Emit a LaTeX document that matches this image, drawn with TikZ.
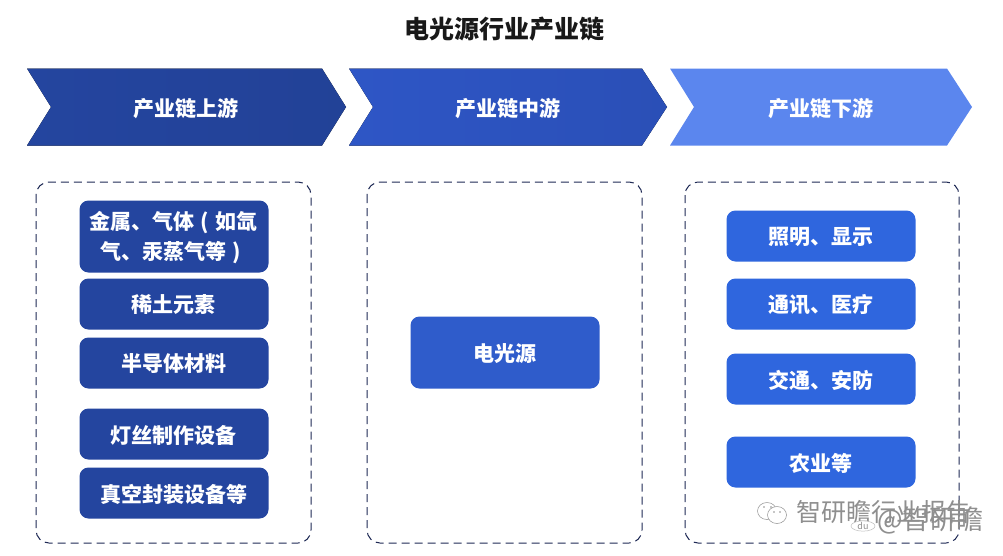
\documentclass[tikz,border=0pt]{standalone}
\usepackage{fontspec}
\setmainfont{Noto Sans CJK SC}
\usetikzlibrary{shapes.geometric}
\definecolor{upc}{HTML}{24459F}
\definecolor{midc}{HTML}{2E56C6}
\definecolor{downc}{HTML}{5B86EE}
\definecolor{midbox}{HTML}{2F5CCB}
\definecolor{downbox}{HTML}{2F66DE}
\definecolor{dashc}{HTML}{1F2A55}
\definecolor{wm}{HTML}{8F8F8F}
\newcommand{\lparen}{\makebox[21pt][c]{(}}
\newcommand{\rparen}{\makebox[21pt][c]{)}}
\newcommand{\dn}[1]{\raisebox{-1pt}[\height][\depth]{\kern-1pt #1}}
\tikzset{
  x=1pt,y=-1pt,
  pill/.style={rounded corners=9pt,minimum width=189pt,inner sep=0pt,align=center,text=white,font=\fontsize{21}{30}\selectfont\bfseries},
  head/.style={text=white,font=\fontsize{21}{26}\selectfont\bfseries},
  panel/.style={draw=dashc,line width=1pt,dash pattern=on 8pt off 5pt,rounded corners=13pt},
  wmark/.style={text=wm,font=\fontsize{25}{28}\selectfont,inner sep=0pt,anchor=west},
}
\begin{document}
\begin{tikzpicture}
\useasboundingbox (0,0) rectangle (1003,555);
\fill[white] (0,0) rectangle (1003,555);
\node[font=\fontsize{25}{30}\selectfont\bfseries,text=black!90] (title) at (504,29) {电光源行业产业链};
% chevrons
\fill[left color=upc,right color=upc!95!black] (27,68.5) -- (322,68.5) -- (346,107) -- (322,145.5) -- (27,145.5) -- (51,107) -- cycle;
\fill[left color=midc,right color=midc!92!black] (349,68.5) -- (642,68.5) -- (667,107) -- (642,145.5) -- (349,145.5) -- (373,107) -- cycle;
\fill[downc] (670,68.5) -- (947,68.5) -- (972,107) -- (947,145.5) -- (670,145.5) -- (694,107) -- cycle;
\node[head] (h1) at (186,109) {产业链上游};
\node[head] (h2) at (508,109) {产业链中游};
\node[head] (h3) at (821,109) {产业链下游};
% panels
\draw[panel] (36,182) rectangle (311,543);
\draw[panel] (367,182) rectangle (642,543);
\draw[panel] (685,182) rectangle (959,543);
% left boxes
\node[pill,fill=upc,minimum height=72pt] (a1) at (174,236.5) {\dn{金属、气体\lparen 如氙}\\\dn{气、汞蒸气等\rparen}};
\node[pill,fill=upc,minimum height=51pt] (a2) at (174,304) {\dn{稀土元素}};
\node[pill,fill=upc,minimum height=51pt] (a3) at (174,363) {\dn{半导体材料}};
\node[pill,fill=upc,minimum height=51pt] (a4) at (174,434) {\dn{灯丝制作设备}};
\node[pill,fill=upc,minimum height=51pt] (a5) at (174,493) {\dn{真空封装设备等}};
% middle
\node[pill,fill=midbox,minimum height=72pt] (b1) at (505,352.5) {\dn{电光源}};
% right
\node[pill,fill=downbox,minimum height=51pt] (c1) at (821,236) {\dn{照明、显示}};
\node[pill,fill=downbox,minimum height=51pt] (c2) at (821,304) {\dn{通讯、医疗}};
\node[pill,fill=downbox,minimum height=51pt] (c3) at (821,379) {\dn{交通、安防}};
\node[pill,fill=downbox,minimum height=51pt] (c4) at (821,462) {\dn{农业等}};
% watermark
\node[wmark] (w1) at (796,512) {智研瞻行业报告};
\node[wmark,font=\fontsize{27}{30}\selectfont] (w2) at (877,520) {@智研瞻};
\node[draw=wm!60,fill=white,line width=0.5pt,ellipse,inner xsep=3pt,inner ysep=0pt,text=wm,font=\fontsize{9}{10}\selectfont] (w3) at (863,526) {du};
\draw[wm,line width=0.5pt] (767,511) ellipse (9.5pt and 8.5pt);
\draw[wm,line width=0.5pt,fill=white] (777,515) ellipse (9.5pt and 8.5pt);
\fill[wm] (764,507) circle (0.9pt) (771,507) circle (0.9pt) (774,512) circle (0.9pt) (780,512) circle (0.9pt);
\end{tikzpicture}
\end{document}
